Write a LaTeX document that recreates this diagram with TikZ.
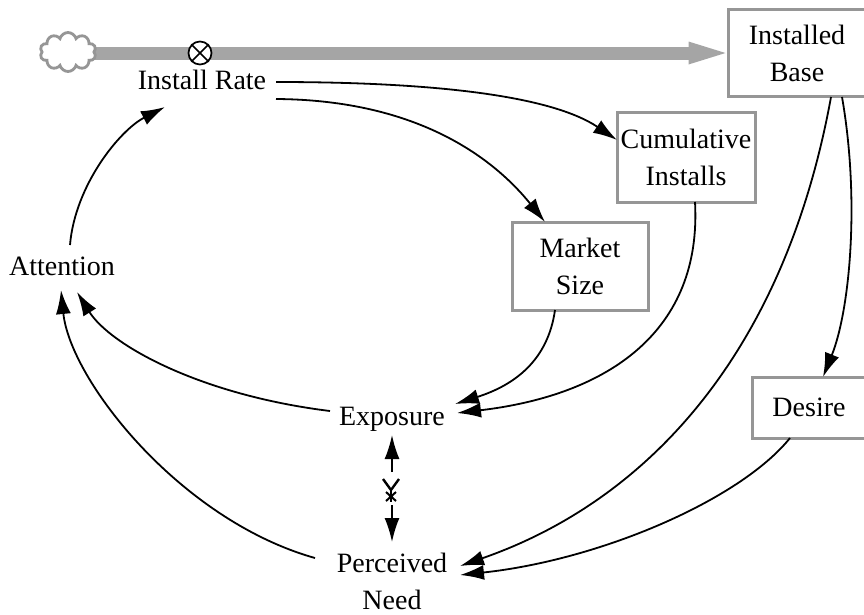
\documentclass[tikz,border=0pt]{standalone}
\usepackage{fontspec}
\setmainfont{Liberation Serif}
\newfontfamily\lblfont{Liberation Serif}
\usetikzlibrary{arrows.meta,shapes.symbols,calc}
\definecolor{boxgray}{RGB}{150,150,150}
\definecolor{pipegray}{RGB}{165,165,165}
\begin{document}
\begin{tikzpicture}[x=1pt,y=-1pt,
  lbl/.style={font=\lblfont\fontsize{28}{37}\selectfont, align=center, inner sep=0pt},
  stockbox/.style={lbl, draw=boxgray, line width=3pt, fill=white},
  arr/.style={-{Latex[length=24pt,width=15pt]}, line width=1.8pt},
  pipe/.style={draw=pipegray, line width=13pt}]
\useasboundingbox (0,0) rectangle (864,614);

% stocks
\node[stockbox, minimum width=138pt, minimum height=87pt] (ib) at (797,53) {Installed\\Base};
\node[stockbox, minimum width=138pt, minimum height=90pt] (ci) at (686,157) {Cumulative\\Installs};
\node[stockbox, minimum width=136pt, minimum height=88pt] (ms) at (580,266) {Market\\Size};
\node[stockbox, minimum width=114pt, minimum height=61pt] (ds) at (809,407.5) {Desire};

% variables
\node[lbl] (ir) at (202,79.5) {Install Rate};
\node[lbl] (att) at (62,266.5) {Attention};
\node[lbl] (ex) at (392,419) {Exposure};
\node[lbl] (pn) at (392,581.5) {Perceived\\Need};

% flow pipe
\draw[pipe] (68,53) -- ($(ib.west)+(-36,0)$);
\fill[pipegray] ($(ib.west)+(-38,-11.5)$) -- ($(ib.west)+(-1,0)$) -- ($(ib.west)+(-38,11.5)$) -- cycle;
\node[cloud, cloud puffs=10, aspect=1.45, draw=boxgray, fill=white, line width=2.8pt,
      minimum width=56pt, minimum height=39pt, inner sep=0pt] (cl) at (68,52) {};
\node[circle, draw, fill=white, line width=1.7pt, minimum size=23pt, inner sep=0pt] (v) at (200,53) {};
\draw[line width=1.7pt] (v.north west) -- (v.south east) (v.north east) -- (v.south west);

% connectors
\draw[arr] ($(ir)+(74,2.5)$) .. controls (430,82) and (550,95) .. ($(ci)+(-69,-17)$);
\draw[arr] ($(ir)+(74,19.5)$) .. controls (420,100) and (495,160) .. ($(ms)+(-35,-44)$);
\draw[arr] ($(att)+(8,-21.5)$) .. controls (75,185) and (120,130) .. ($(ir)+(-37,27.5)$);
\draw[arr] ($(ex)+(-62,-8)$) .. controls (200,395) and (110,345) .. ($(att)+(15,25.5)$);
\draw[arr] ($(pn)+(-77,-23.5)$) .. controls (180,520) and (70,380) .. ($(att)+(-1,23.5)$);
\draw[arr] ($(ms)+(-25,44)$) .. controls (548,360) and (515,385) .. ($(ex)+(63,-15)$);
\draw[arr] ($(ci)+(9,45)$) .. controls (702,330) and (610,395) .. ($(ex)+(65,-6)$);
\draw[arr] ($(ib)+(45,44)$) .. controls (860,200) and (850,310) .. ($(ds)+(14,-30.5)$);
\draw[arr] ($(ib)+(34,44)$) .. controls (785,350) and (650,500) .. ($(pn)+(68,-15.5)$);
\draw[arr] ($(ds)+(-19,30.5)$) .. controls (740,500) and (600,560) .. ($(pn)+(68,-6.5)$);

% delay link
\coordinate (dly) at (391,490);
\draw[arr] ($(dly)+(1,-18)$) -- ($(ex)+(0,16)$);
\draw[arr] ($(dly)+(1,15)$) -- ($(pn)+(0,-39.5)$);
\draw[line width=2.4pt] ($(dly)+(-8,-11)$) -- (dly) -- ($(dly)+(8,-11)$);
\draw[line width=2.4pt] (dly) -- ($(dly)+(0,12)$);
\draw[line width=2pt] ($(dly)+(-5,2)$) -- ($(dly)+(5,11)$) ($(dly)+(5,2)$) -- ($(dly)+(-5,11)$);
\end{tikzpicture}
\end{document}
